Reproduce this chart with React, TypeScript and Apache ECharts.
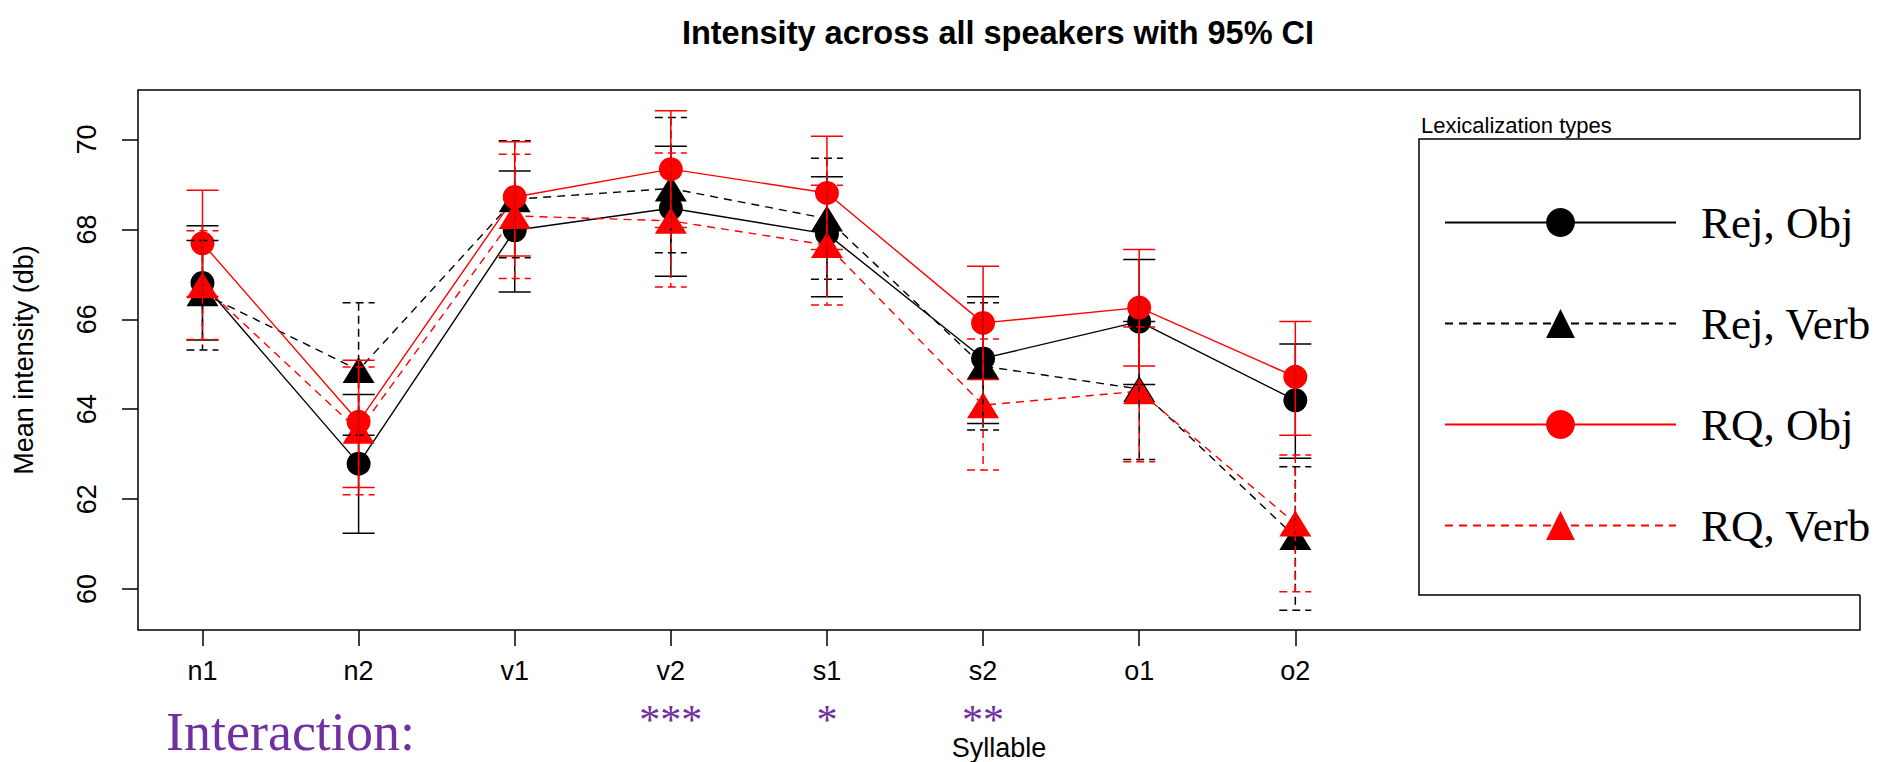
import React, { useEffect, useRef } from 'react';
import * as echarts from 'echarts';

const categories = ['n1', 'n2', 'v1', 'v2', 's1', 's2', 'o1', 'o2'];
const significance = ['', '', '', '***', '*', '**', '', ''];
const seriesNames = ['Rej, Obj', 'Rej, Verb', 'RQ, Obj', 'RQ, Verb'];
const yTicks = [60, 62, 64, 66, 68, 70];

const rejObjMean = [66.81, 62.79, 67.98, 68.47, 67.9, 65.13, 65.95, 64.2];
const rejObjLow = [65.54, 61.24, 66.61, 66.96, 66.5, 63.68, 64.55, 62.91];
const rejObjHigh = [68.08, 64.33, 69.3, 69.85, 69.17, 66.5, 67.33, 65.45];

const rejVerbMean = [66.58, 64.87, 68.67, 68.91, 68.24, 64.96, 64.45, 61.16];
const rejVerbLow = [65.32, 63.42, 67.37, 67.48, 66.89, 63.54, 62.88, 59.53];
const rejVerbHigh = [67.75, 66.37, 69.97, 70.49, 69.58, 66.37, 65.95, 62.72];

const rqObjMean = [67.69, 63.72, 68.72, 69.34, 68.81, 65.92, 66.26, 64.72];
const rqObjLow = [66.51, 62.26, 67.41, 68.04, 67.55, 64.66, 64.96, 63.42];
const rqObjHigh = [68.87, 65.09, 69.95, 70.64, 70.07, 67.18, 67.55, 65.95];

const rqVerbMean = [66.76, 63.52, 68.3, 68.19, 67.65, 64.09, 64.4, 61.46];
const rqVerbLow = [65.55, 62.1, 66.91, 66.72, 66.32, 62.65, 62.83, 59.94];
const rqVerbHigh = [67.97, 64.94, 69.67, 69.7, 68.98, 65.56, 65.83, 62.98];

const TITLE = 'Intensity across all speakers with 95% CI';
const X_NAME = 'Syllable';
const Y_NAME = 'Mean intensity (db)';
const LEGEND_TITLE = 'Lexicalization types';
const INTERACTION = 'Interaction:';

export default function App() {
  const ref = useRef<HTMLDivElement>(null);

  useEffect(() => {
    const chart = echarts.init(ref.current!, null, { renderer: 'svg' });
    const NARROW = "'Liberation Sans Narrow', 'Arial Narrow', 'Liberation Sans', Arial, sans-serif";
    const SANS = "'Liberation Sans', Arial, sans-serif";
    const SERIF = "'Liberation Serif', 'Times New Roman', serif";
    const RED = '#ff0000';
    const BLACK = '#000000';
    const PURPLE = '#7030a0';

    const groups = [
      { name: seriesNames[0], mean: rejObjMean, low: rejObjLow, high: rejObjHigh, color: BLACK, dashed: false, symbol: 'circle' },
      { name: seriesNames[1], mean: rejVerbMean, low: rejVerbLow, high: rejVerbHigh, color: BLACK, dashed: true, symbol: 'triangle' },
      { name: seriesNames[2], mean: rqObjMean, low: rqObjLow, high: rqObjHigh, color: RED, dashed: false, symbol: 'circle' },
      { name: seriesNames[3], mean: rqVerbMean, low: rqVerbLow, high: rqVerbHigh, color: RED, dashed: true, symbol: 'triangle' },
    ];

    const lineSeries = groups.map((g) => ({
      type: 'line',
      name: g.name,
      data: g.mean.map((v, i) => [i, v]),
      symbol: g.symbol,
      symbolSize: g.symbol === 'circle' ? 24 : [32, 26],
      itemStyle: { color: g.color, opacity: 1 },
      lineStyle: { color: g.color, width: 1.4, type: g.dashed ? [8, 6] : 'solid' },
      z: 2,
      silent: true,
    }));

    const errSeries = groups.map((g) => ({
      type: 'custom',
      name: g.name + ' CI',
      data: g.low.map((lo, i) => [i, lo, g.high[i]]),
      encode: { x: 0, y: [1, 2] },
      z: 3,
      silent: true,
      renderItem: (params: any, api: any) => {
        const x = api.value(0);
        const top = api.coord([x, api.value(2)]);
        const bot = api.coord([x, api.value(1)]);
        const half = 16;
        const style: any = { stroke: g.color, lineWidth: 1.5, fill: null };
        if (g.dashed) style.lineDash = [8, 5];
        return {
          type: 'group',
          children: [
            { type: 'line', shape: { x1: top[0], y1: top[1], x2: bot[0], y2: bot[1] }, style },
            { type: 'line', shape: { x1: top[0] - half, y1: top[1], x2: top[0] + half, y2: top[1] }, style },
            { type: 'line', shape: { x1: bot[0] - half, y1: bot[1], x2: bot[0] + half, y2: bot[1] }, style },
          ],
        };
      },
    }));

    const tickLine = { color: '#000', width: 1.5 };

    chart.setOption({
      animation: false,
      backgroundColor: '#fff',
      title: {
        text: TITLE,
        left: 993,
        top: 11,
        textAlign: 'center',
        textStyle: { fontFamily: SANS, fontSize: 32.5, fontWeight: 'bold', color: '#000' },
      },
      grid: {
        left: 138,
        right: 37,
        top: 90,
        bottom: 132,
        show: true,
        borderColor: '#000',
        borderWidth: 1.5,
        backgroundColor: 'transparent',
        containLabel: false,
        outerBoundsMode: 'none',
      },
      xAxis: {
        type: 'value',
        min: -0.413,
        max: 10.617,
        axisLine: { show: false, onZero: false },
        splitLine: { show: false },
        axisTick: { show: true, customValues: categories.map((_, i) => i), length: 16, lineStyle: tickLine },
        axisLabel: {
          customValues: categories.map((_, i) => i),
          margin: 25,
          formatter: (v: number) => {
            const i = Math.round(v);
            const s = significance[i];
            return s ? `{a|${categories[i]}}\n{b|${s}}` : `{a|${categories[i]}}`;
          },
          rich: {
            a: { fontFamily: NARROW, fontSize: 27, color: '#000', lineHeight: 32 },
            b: { fontFamily: SERIF, fontSize: 42, color: PURPLE, lineHeight: 66 },
          },
        },
        name: X_NAME,
        nameLocation: 'middle',
        nameGap: 104,
        nameMoveOverlap: false,
        nameTextStyle: { fontFamily: NARROW, fontSize: 27, color: '#000' },
      },
      yAxis: {
        type: 'value',
        min: 59.09,
        max: 71.1,
        axisLine: { show: false, onZero: false },
        splitLine: { show: false },
        axisTick: { show: true, customValues: yTicks, length: 16, lineStyle: tickLine },
        axisLabel: {
          customValues: yTicks,
          rotate: 90,
          margin: 38,
          fontFamily: NARROW,
          fontSize: 27,
          color: '#000',
        },
        name: Y_NAME,
        nameLocation: 'middle',
        nameRotate: 90,
        nameGap: 101,
        nameMoveOverlap: false,
        nameTextStyle: { fontFamily: NARROW, fontSize: 27, color: '#000' },
      },
      legend: {
        data: seriesNames,
        orient: 'vertical',
        left: 1444,
        top: 200,
        padding: 0,
        itemWidth: 231,
        itemHeight: 36,
        itemGap: 56,
        selectedMode: false,
        z: 60,
        textStyle: { fontFamily: SERIF, fontSize: 45, color: '#000', padding: [0, 0, 0, 20] },
      },
      graphic: [
        {
          type: 'rect',
          z: 50,
          silent: true,
          shape: { x: 1419, y: 139, width: 478, height: 456 },
          style: { fill: '#fff', stroke: null },
        },
        {
          type: 'polyline',
          z: 51,
          silent: true,
          shape: { points: [[1860, 139], [1419, 139], [1419, 595], [1860, 595]] },
          style: { stroke: '#000', lineWidth: 1.5, fill: null },
        },
        {
          type: 'text',
          z: 52,
          x: 1421,
          y: 125,
          style: {
            text: LEGEND_TITLE,
            fontFamily: SANS,
            fontSize: 22,
            fill: '#000',
            align: 'left',
            verticalAlign: 'middle',
            textAlign: 'left',
            textVerticalAlign: 'middle',
          },
        },
        {
          type: 'text',
          z: 52,
          x: 166,
          y: 732,
          style: {
            text: INTERACTION,
            fontFamily: SERIF,
            fontSize: 54,
            fill: PURPLE,
            align: 'left',
            verticalAlign: 'middle',
            textAlign: 'left',
            textVerticalAlign: 'middle',
          },
        },
      ],
      series: [...lineSeries, ...errSeries],
    });

    return () => chart.dispose();
  }, []);

  return (
    <div
      ref={ref}
      style={{ position: 'absolute', left: 0, top: 0, width: '1897px', height: '762px' }}
    />
  );
}
